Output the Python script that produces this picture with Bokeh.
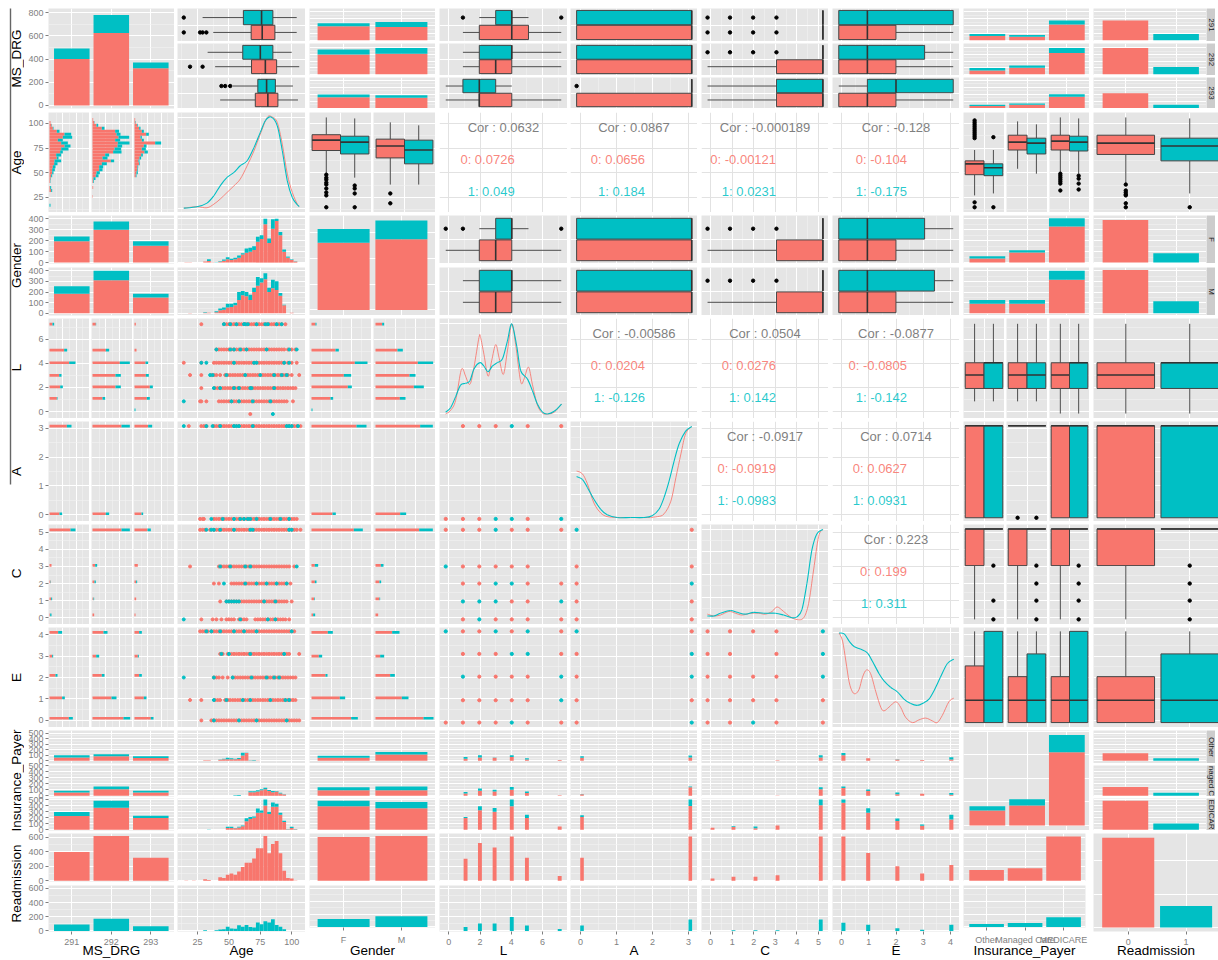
from bokeh.plotting import figure
from bokeh.models import Range1d, Grid, FixedTicker, LinearAxis, Label, BoxAnnotation, Row, Column
from bokeh.core.properties import value
from bokeh.embed import file_html
from bokeh.resources import INLINE
import math

RED = "#F8766D"
TEAL = "#00BFC4"
FONT = "Liberation Sans"
VARS = ["MS_DRG", "Age", "Gender", "L", "A", "C", "E", "Insurance_Payer", "Readmission"]

# ---------- counts: stacked bars ----------
DRG_TOTAL_RED = [400, 625, 320]
DRG_TOTAL_TEAL = [90, 155, 50]
GENDER_TOTAL_RED = [650, 683]
GENDER_TOTAL_TEAL = [132, 182]
PAYER_TOTAL_RED = [127, 170, 623]
PAYER_TOTAL_TEAL = [37, 54, 145]
READM_TOTAL_RED = [1340, 0]
READM_TOTAL_TEAL = [0, 320]

GENDER_BY_DRG_RED = [[195, 185], [300, 310], [155, 148]]
GENDER_BY_DRG_TEAL = [[43, 70], [75, 90], [40, 37]]
PAYER_BY_DRG_RED = [[57, 48, 219], [57, 100, 324], [29, 48, 162]]
PAYER_BY_DRG_TEAL = [[29, 23, 57], [38, 33, 76], [19, 19, 38]]
READM_BY_DRG = [[276, 86], [400, 110], [214, 48]]

DRG_BY_GENDER_RED = [[195, 300, 155], [185, 310, 148]]
DRG_BY_GENDER_TEAL = [[43, 75, 40], [70, 90, 37]]
PAYER_BY_GENDER_RED = [[37, 92, 329], [89, 89, 314]]
PAYER_BY_GENDER_TEAL = [[21, 22, 77], [37, 37, 86]]
READM_BY_GENDER = [[388, 86], [406, 114]]

DRG_BY_PAYER_RED = [[60, 83, 50], [55, 110, 55], [228, 366, 194]]
DRG_BY_PAYER_TEAL = [[40, 37, 35], [28, 45, 28], [67, 112, 39]]
GENDER_BY_PAYER_RED = [[55, 113], [94, 94], [390, 356]]
GENDER_BY_PAYER_TEAL = [[35, 47], [46, 61], [88, 104]]
READM_BY_PAYER = [[137, 48], [144, 50], [478, 105]]

DRG_READM = [[400, 620, 320], [90, 170, 65]]
GENDER_READM = [[605, 620], [125, 165]]
PAYER_READM = [[148, 175, 615], [46, 60, 152]]

# ---------- age histograms ----------
AGE_BINS = [16, 19, 22, 25, 28, 31, 34, 37, 40, 43, 46, 49, 52, 55, 58, 61, 64, 67, 70, 73, 76, 79, 82, 85, 88, 91, 94, 97, 100, 103]
AGE_F_RED = [3, 3, 0, 0, 0, 10, 15, 3, 0, 8, 18, 30, 25, 30, 45, 75, 90, 100, 115, 190, 215, 350, 180, 310, 380, 250, 100, 45, 25, 10]
AGE_F_TEAL = [0, 0, 0, 0, 0, 0, 15, 0, 3, 5, 10, 20, 10, 15, 20, 10, 40, 35, 35, 45, 35, 50, 40, 85, 20, 30, 20, 10, 5, 2]
AGE_M_RED = [0, 3, 0, 0, 0, 5, 5, 0, 10, 30, 35, 55, 60, 75, 125, 170, 160, 125, 200, 260, 290, 320, 200, 235, 220, 165, 75, 0, 5, 0]
AGE_M_TEAL = [0, 0, 0, 0, 0, 5, 0, 0, 10, 15, 20, 35, 30, 25, 75, 40, 40, 50, 40, 80, 40, 55, 40, 80, 80, 25, 5, 0, 0, 0]
AGE_OTHER_RED = [0, 0, 0, 0, 0, 10, 10, 0, 0, 20, 30, 30, 30, 30, 35, 95, 140, 5, 5, 5, 0, 0, 0, 0, 0, 0, 0, 0, 0, 0]
AGE_OTHER_TEAL = [0, 0, 0, 0, 0, 0, 0, 0, 0, 5, 10, 25, 15, 10, 15, 50, 5, 5, 8, 0, 0, 0, 0, 0, 0, 0, 0, 0, 0, 0]
AGE_MANAGED_RED = [0, 0, 0, 0, 0, 0, 0, 0, 0, 0, 0, 0, 0, 0, 0, 0, 0, 60, 60, 70, 90, 110, 80, 60, 70, 40, 20, 0, 0, 0]
AGE_MANAGED_TEAL = [0, 0, 0, 0, 0, 0, 0, 0, 0, 0, 0, 0, 0, 10, 15, 0, 0, 15, 15, 20, 20, 25, 15, 20, 10, 10, 5, 0, 0, 0]
AGE_MEDICARE_RED = [0, 0, 0, 0, 0, 0, 3, 0, 3, 0, 0, 30, 30, 25, 40, 60, 140, 180, 200, 280, 280, 400, 260, 380, 380, 250, 130, 10, 30, 10]
AGE_MEDICARE_TEAL = [0, 0, 0, 0, 0, 0, 3, 0, 0, 0, 0, 20, 20, 5, 10, 10, 50, 30, 20, 70, 40, 100, 40, 70, 50, 30, 20, 5, 20, 5]
AGE_READM0 = [5, 0, 5, 0, 0, 20, 10, 0, 0, 50, 40, 85, 100, 85, 130, 190, 250, 250, 310, 450, 450, 620, 380, 510, 550, 380, 140, 40, 30, 5]
AGE_READM1 = [0, 0, 0, 0, 0, 10, 0, 0, 10, 20, 25, 60, 35, 30, 80, 60, 85, 55, 50, 120, 95, 135, 120, 165, 85, 60, 25, 0, 0, 0]

AGE_H = [104, 101, 98, 95, 92, 89, 86, 83, 80, 77, 74, 71, 68, 65, 62, 59, 56, 53, 50, 47, 44, 41, 38, 35, 32, 29, 26, 23, 20, 17]
AGE_291_RED = [0, 3, 6, 10, 22, 45, 40, 25, 35, 45, 35, 32, 20, 22, 15, 14, 10, 8, 8, 5, 3, 2, 0, 2, 5, 0, 0, 0, 0, 0]
AGE_291_TEAL = [0, 0, 1, 2, 8, 20, 28, 15, 20, 18, 22, 8, 15, 5, 20, 10, 8, 8, 4, 3, 1, 1, 0, 3, 3, 0, 0, 0, 0, 3]
AGE_292_RED = [2, 5, 12, 28, 68, 72, 78, 68, 76, 75, 66, 62, 38, 30, 55, 28, 20, 20, 12, 10, 3, 2, 0, 2, 0, 0, 1, 0, 0, 0]
AGE_292_TEAL = [0, 1, 5, 8, 12, 12, 32, 15, 35, 14, 20, 25, 12, 15, 10, 15, 12, 10, 10, 8, 6, 2, 0, 0, 0, 0, 0, 0, 0, 0]
AGE_293_RED = [2, 3, 8, 14, 22, 35, 18, 22, 62, 28, 22, 30, 20, 15, 12, 14, 9, 8, 6, 4, 0, 0, 0, 0, 0, 0, 0, 0, 0, 0]
AGE_293_TEAL = [0, 1, 2, 4, 6, 8, 4, 6, 18, 8, 12, 10, 5, 5, 3, 2, 2, 2, 4, 2, 0, 0, 0, 0, 0, 0, 0, 0, 0, 0]

# ---------- count bars over L, A, C, E ----------
L_BAR_X = [1.07, 1.99, 2.93, 4.03, 5.0, 7.1]
A_BAR_X = [0.04, 3.05]
C_BAR_X = [0.09, 1.06, 2.08, 3.1, 5.1]
E_BAR_X = [0.07, 0.98, 2.05, 2.96, 4.03]
L_OTHER = [[40, 60, 55, 70, 25, 15], [30, 40, 5, 30, 23, 0]]
L_MANAGED = [[40, 83, 72, 100, 45, 10], [25, 37, 28, 45, 27, 0]]
L_MEDICARE = [[195, 322, 300, 390, 195, 55], [15, 68, 60, 110, 55, 0]]
L_READM = [[305, 525, 460, 615, 320, 65], [55, 105, 105, 195, 75, 28]]
A_OTHER = [[55, 60], [30, 35]]
A_MANAGED = [[28, 140], [2, 15]]
A_MEDICARE = [[210, 395], [30, 105]]
A_READM = [[320, 615], [75, 160]]
C_OTHER = [[0, 0, 0, 12, 60], [0, 0, 0, 0, 40]]
C_MANAGED = [[0, 3, 3, 5, 110], [0, 0, 0, 0, 30]]
C_MEDICARE = [[33, 45, 25, 70, 405], [0, 15, 30, 0, 95]]
C_READM = [[30, 55, 55, 75, 615], [0, 10, 10, 10, 160]]
E_OTHER = [[100, 48, 24, 15, 24], [43, 0, 6, 0, 41]]
E_MANAGED = [[130, 80, 28, 33, 17], [25, 25, 27, 0, 28]]
E_MEDICARE = [[445, 280, 145, 67, 172], [55, 75, 40, 23, 78]]
E_READM = [[615, 385, 200, 100, 220], [115, 88, 37, 18, 88]]

# ---------- horizontal stacked bands: level, red length, teal length ----------
L_LEVELS = [7.25, 5.1, 4.05, 3.0, 2.05, 1.1, 0.15]
L_DRG_RED = [[9, 44, 59, 29, 32, 22, 0], [10, 40, 82, 69, 69, 30, 0], [4, 6, 33, 34, 46, 37, 0]]
L_DRG_TEAL = [[5, 9, 19, 7, 8, 2, 0], [1, 10, 30, 16, 16, 8, 0], [0, 0, 8, 9, 9, 9, 3]]
L_GEN_RED = [[12, 72, 130, 97, 109, 57, 0], [20, 66, 127, 102, 115, 73, 0]]
L_GEN_TEAL = [[3, 10, 38, 22, 12, 8, 3], [6, 16, 46, 18, 30, 17, 0]]
A_LEVELS = [3.08, 0.03]
A_DRG_RED = [[52, 30], [87, 40], [41, 21]]
A_DRG_TEAL = [[14, 8], [25, 10], [12, 5]]
A_GEN_RED = [[135, 63], [134, 74]]
A_GEN_TEAL = [[30, 10], [38, 18]]
C_LEVELS = [5.15, 3.06, 2.1, 1.1, 0.16]
C_DRG_RED = [[63, 6, 3, 5, 2], [87, 8, 6, 3, 5], [39, 10, 5, 5, 3]]
C_DRG_TEAL = [[15, 0, 1, 3, 4], [25, 6, 4, 2, 0], [10, 0, 3, 0, 0]]
C_GEN_RED = [[127, 10, 10, 8, 5], [131, 16, 12, 12, 8]]
C_GEN_TEAL = [[27, 10, 5, 2, 6], [41, 8, 5, 2, 0]]
E_LEVELS = [4.1, 3.0, 2.1, 1.05, 0.1]
E_DRG_RED = [[26, 8, 18, 38, 58], [33, 11, 28, 57, 93], [14, 10, 14, 28, 49]]
E_DRG_TEAL = [[12, 3, 6, 8, 12], [12, 9, 8, 15, 20], [8, 3, 8, 8, 8]]
E_GEN_RED = [[49, 22, 42, 85, 119], [50, 14, 44, 79, 144]]
E_GEN_TEAL = [[15, 10, 6, 16, 20], [22, 12, 14, 20, 30]]

# ---------- Age scatter, by level ----------
AGE_L_Y = [7.25, 5.15, 4.05, 3.03, 1.95, 0.85, -0.2]
AGE_L_RED = [
    [28, 46, 48, 50, 52, 54, 56, 58, 60, 62, 64, 66, 68, 70, 72, 74, 76, 78, 80, 82, 84, 86, 88, 90, 92, 95],
    [40, 42, 44, 46, 48, 50, 52, 54, 56, 58, 60, 62, 64, 66, 68, 70, 72, 74, 76, 78, 80, 82, 84, 86, 88, 90, 92, 94, 97, 100, 103],
    [14, 28, 38, 40, 42, 44, 46, 48, 50, 52, 54, 56, 58, 60, 62, 64, 66, 68, 70, 72, 74, 76, 78, 80, 82, 84, 86, 88, 90, 92, 94, 97, 100, 104],
    [19, 28, 36, 38, 40, 43, 47, 49, 51, 53, 55, 57, 59, 61, 63, 65, 67, 69, 71, 73, 75, 77, 79, 81, 83, 85, 87, 89, 91, 93, 95, 97, 100, 106],
    [28, 39, 41, 43, 45, 47, 49, 51, 53, 55, 57, 59, 61, 63, 65, 67, 69, 71, 73, 75, 77, 79, 81, 83, 85, 87, 89, 91, 93, 95, 97, 99, 101, 103],
    [27, 28, 32, 42, 44, 46, 48, 50, 52, 54, 56, 58, 60, 62, 64, 66, 68, 70, 72, 74, 76, 78, 80, 82, 84, 86, 88, 90, 92, 94, 96, 101],
    [67],
]
AGE_L_TEAL = [
    [46, 51, 56, 62, 63, 65, 72, 79, 81, 88, 92],
    [40, 51, 54, 59, 64, 80, 98, 104],
    [28, 32, 54, 70, 72, 94, 98],
    [35, 37, 48, 63, 75, 86, 92, 96],
    [38, 43, 54, 58, 67, 68, 86],
    [14, 52, 58, 69, 83],
    [85],
]
AGE_A_Y = [3.08, -0.15]
AGE_A_RED = [
    [18, 28, 30, 32, 38, 40, 42, 44, 46, 48, 50, 52, 54, 56, 58, 60, 62, 64, 66, 68, 70, 72, 74, 76, 78, 80, 82, 84, 86, 88, 90, 92, 94, 96, 98, 100, 102, 104, 107],
    [27, 29, 30, 38, 40, 42, 44, 46, 48, 50, 52, 54, 56, 58, 60, 62, 64, 66, 68, 70, 72, 74, 76, 78, 80, 82, 84, 86, 88, 90, 92, 94, 96, 98, 100, 102, 104],
]
AGE_A_TEAL = [
    [14, 32, 37, 43, 54, 56, 58, 69, 96, 98, 100, 105],
    [36, 45, 54, 59, 62, 65, 67, 72, 83, 91, 98],
]
AGE_C_Y = [5.15, 3.0, 2.0, 0.95, -0.1]
AGE_C_RED = [
    [27, 29, 31, 35, 38, 40, 42, 44, 46, 48, 50, 52, 54, 56, 58, 60, 62, 64, 66, 68, 70, 72, 74, 76, 78, 80, 82, 84, 86, 88, 90, 92, 94, 96, 98, 100, 102, 104, 107],
    [19, 42, 44, 46, 48, 50, 52, 54, 56, 58, 60, 62, 64, 66, 68, 70, 72, 74, 76, 78, 80, 82, 84, 86, 88, 90, 92, 94, 96, 98, 102],
    [38, 42, 52, 54, 56, 58, 60, 62, 64, 66, 68, 70, 72, 74, 76, 78, 80, 82, 84, 86, 88, 90, 92, 94, 96, 99],
    [43, 48, 50, 52, 54, 56, 58, 60, 62, 64, 66, 68, 70, 72, 74, 76, 78, 80, 82, 84, 86, 88, 90, 92, 94, 96, 100],
    [28, 37, 40, 44, 48, 50, 52, 54, 58, 60, 62, 64, 71, 73, 75, 77, 79, 81, 83, 85, 87, 89, 91, 93, 95, 98],
]
AGE_C_TEAL = [
    [32, 36, 38, 43, 54, 67, 69, 98, 100],
    [43, 51, 63, 67, 104],
    [46, 63, 72, 80, 88, 96],
    [48, 50, 52, 54, 56, 58, 78, 87],
    [14, 59, 81, 87],
]
AGE_E_Y = [4.15, 3.1, 2.0, 0.95, 0.0]
AGE_E_RED = [
    [27, 29, 31, 33, 36, 38, 40, 42, 44, 46, 48, 50, 52, 54, 56, 58, 60, 62, 64, 66, 68, 70, 72, 74, 76, 78, 80, 82, 84, 86, 88, 90, 92, 94, 96, 98, 100, 102],
    [43, 45, 49, 52, 54, 56, 58, 60, 62, 64, 66, 68, 70, 72, 74, 76, 78, 80, 82, 84, 86, 88, 90, 92, 94, 96, 98, 106],
    [38, 40, 42, 45, 49, 53, 55, 57, 59, 61, 63, 65, 67, 69, 71, 73, 75, 77, 79, 81, 83, 85, 87, 89, 91, 93, 95, 97, 99, 101, 103],
    [19, 28, 39, 41, 43, 47, 49, 51, 53, 55, 57, 59, 61, 63, 65, 67, 69, 71, 73, 75, 77, 79, 81, 83, 85, 87, 89, 91, 93, 95, 97, 99, 101, 103],
    [28, 36, 38, 40, 42, 44, 46, 48, 50, 52, 54, 56, 58, 60, 62, 64, 66, 68, 70, 72, 74, 76, 78, 80, 82, 84, 86, 88, 90, 92, 94, 96, 98, 100, 102, 104, 106],
]
AGE_E_TEAL = [
    [32, 36, 43, 54, 62, 72, 100],
    [44, 50, 67, 94],
    [14, 38, 53, 68, 80, 86, 90],
    [38, 48, 61, 67, 83, 95, 98],
    [38, 58, 72, 96],
]

# ---------- point grids (R salmon, T teal, - none) ----------
L_PTS = [-0.2, 0.9, 1.95, 3.0, 4.03, 5.05, 7.2]
A_PTS = [-0.11, 3.09]
C_PTS = [-0.14, 0.9, 1.97, 3.05, 5.2]
A_Y_PTS = [3.08, -0.15]
C_Y_PTS = [5.15, 3.0, 2.0, 0.95, -0.1]
E_Y_PTS = [4.15, 3.1, 2.04, 0.94, -0.1]
A_BY_L = ["-RRRTRR", "RRRTTRT"]
C_BY_L = ["RRRTRRR", "TRRRRR-", "-RRTTRR", "-TTTRRT", "-RTRRRR"]
E_BY_L = ["TRRTRTR", "-RRRTTR", "-TRRRRT", "-RRRRRT", "RRRRTRR"]
C_BY_A = ["TR", "RR", "RT", "RR", "RR"]
E_BY_A = ["TR", "RT", "RT", "RR", "RT"]
E_BY_C = ["RRRRT", "RR-RT", "RRRRT", "RRRRR", "RRTRR"]

# ---------- densities ----------
DENS_AGE_RED_X = [14, 24.5, 32.5, 38, 43, 48.5, 54, 59, 64.5, 70, 75, 80.5, 84.5, 88.5, 92.5, 96.5, 100.5, 104.5, 106]
DENS_AGE_RED_Y = [0, 0.015, 0.004, 0.044, 0.099, 0.172, 0.245, 0.319, 0.465, 0.63, 0.813, 0.996, 1, 0.941, 0.703, 0.374, 0.172, 0.044, 0.018]
DENS_AGE_TEAL_X = [14, 24.5, 32.5, 38, 43, 48.5, 54, 59, 64.5, 70, 75, 79, 83.5, 88.5, 92.5, 96.5, 100.5, 104.5, 106]
DENS_AGE_TEAL_Y = [0, 0.015, 0.055, 0.136, 0.245, 0.337, 0.392, 0.465, 0.52, 0.667, 0.832, 0.96, 1, 0.905, 0.63, 0.3, 0.117, 0.037, 0.018]
DENS_L_RED_X = [-0.21, 0.11, 0.43, 0.75, 0.9, 1.07, 1.35, 1.61, 1.93, 2.03, 2.25, 2.51, 2.74, 3, 3.21, 3.49, 3.75, 4.03, 4.28, 4.6, 4.82, 5.1, 5.35, 5.67, 6, 6.32, 6.75, 7.22]
DENS_L_RED_Y = [0, 0.04, 0.15, 0.46, 0.5, 0.42, 0.33, 0.52, 0.85, 0.85, 0.66, 0.42, 0.59, 0.77, 0.63, 0.44, 0.7, 1, 0.77, 0.36, 0.39, 0.52, 0.33, 0.1, 0.01, 0, 0.02, 0.11]
DENS_L_TEAL_X = [-0.21, 0.11, 0.43, 0.75, 1.07, 1.35, 1.61, 1.99, 2.25, 2.51, 2.78, 3.1, 3.43, 3.75, 4.03, 4.35, 4.6, 5.03, 5.35, 5.67, 6, 6.32, 6.75, 7.22]
DENS_L_TEAL_Y = [0.02, 0.07, 0.19, 0.32, 0.34, 0.37, 0.5, 0.57, 0.53, 0.47, 0.53, 0.57, 0.61, 0.81, 1, 0.75, 0.48, 0.39, 0.26, 0.11, 0.02, 0, 0.03, 0.11]
DENS_A_RED_X = [-0.11, 0.05, 0.19, 0.37, 0.56, 0.74, 1.02, 1.39, 1.86, 2.14, 2.32, 2.51, 2.65, 2.79, 2.92, 3.09]
DENS_A_RED_Y = [0.51, 0.48, 0.37, 0.16, 0.05, 0.01, 0, 0, 0, 0.01, 0.04, 0.18, 0.44, 0.7, 0.92, 1]
DENS_A_TEAL_X = [-0.11, 0.05, 0.19, 0.37, 0.56, 0.74, 1.02, 1.39, 1.76, 1.99, 2.18, 2.32, 2.46, 2.6, 2.74, 2.92, 3.09]
DENS_A_TEAL_Y = [0.45, 0.42, 0.33, 0.2, 0.09, 0.03, 0, 0, 0, 0.02, 0.09, 0.22, 0.4, 0.62, 0.81, 0.95, 1]
DENS_C_RED_X = [-0.15, 0.15, 0.46, 0.85, 1.15, 1.46, 1.85, 2.23, 2.54, 2.85, 3.08, 3.38, 3.69, 4, 4.31, 4.54, 4.77, 5, 5.2]
DENS_C_RED_Y = [0.06, 0.04, 0.05, 0.09, 0.07, 0.05, 0.07, 0.07, 0.06, 0.09, 0.14, 0.09, 0.03, 0, 0.02, 0.18, 0.55, 0.92, 1]
DENS_C_TEAL_X = [-0.15, 0.15, 0.46, 0.92, 1.23, 1.62, 2, 2.46, 3, 3.38, 3.77, 4, 4.23, 4.46, 4.69, 4.92, 5.2]
DENS_C_TEAL_Y = [0.04, 0.04, 0.07, 0.1, 0.08, 0.06, 0.08, 0.07, 0.07, 0.05, 0.02, 0.03, 0.11, 0.4, 0.77, 0.95, 1]
DENS_E_RED_X = [-0.09, 0.04, 0.16, 0.28, 0.4, 0.52, 0.65, 0.77, 0.91, 1.07, 1.26, 1.44, 1.56, 1.74, 1.99, 2.17, 2.35, 2.6, 2.84, 3.09, 3.33, 3.51, 3.7, 3.94, 4.12]
DENS_E_RED_Y = [1, 0.91, 0.69, 0.46, 0.35, 0.33, 0.38, 0.51, 0.59, 0.55, 0.35, 0.18, 0.14, 0.18, 0.24, 0.18, 0.07, 0.01, 0.04, 0.06, 0.03, 0.01, 0.09, 0.24, 0.28]
DENS_E_TEAL_X = [-0.09, 0.1, 0.28, 0.46, 0.71, 0.95, 1.13, 1.38, 1.56, 1.8, 2.05, 2.29, 2.54, 2.78, 3.02, 3.21, 3.39, 3.63, 3.88, 4.12]
DENS_E_TEAL_Y = [1, 0.99, 0.91, 0.85, 0.82, 0.78, 0.69, 0.55, 0.47, 0.4, 0.35, 0.27, 0.22, 0.2, 0.23, 0.27, 0.36, 0.51, 0.66, 0.71]

# ---------- correlations ----------
CORR = {
    (1, 3): ("0.0632", "0.0726", "0.049"), (1, 4): ("0.0867", "0.0656", "0.184"),
    (1, 5): ("-0.000189", "-0.00121", "0.0231"), (1, 6): ("-0.128", "-0.104", "-0.175"),
    (3, 4): ("-0.00586", "0.0204", "-0.126"), (3, 5): ("0.0504", "0.0276", "0.142"),
    (3, 6): ("-0.0877", "-0.0805", "-0.142"), (4, 5): ("-0.0917", "-0.0919", "-0.0983"),
    (4, 6): ("0.0714", "0.0627", "0.0931"), (5, 6): ("0.223", "0.199", "0.311"),
}

# ---------- box statistics: low, q1, median, q3, high, outliers ----------
BOX_AGE_DRG = [
    ((37.5, 67.7, 76.5, 86.6, 104, [14, 27, 29, 32]), (29, 61.5, 76, 85, 104, [14])),
    ((39, 68, 79, 88, 106, [19, 29]), (33, 61, 75, 85, 100, [])),
    ((43, 71, 81, 89, 105, []), (53, 73, 80, 87, 101, [44, 47, 51])),
]
BOX_L_DRG = [
    ((0.9, 1.95, 4.03, 5.1, 7.2, []), (1.95, 3, 4.03, 4.03, 5.1, [0.9, 7.2])),
    ((0.9, 1.95, 3, 4.03, 7.2, []), (0.9, 1.95, 4.03, 4.03, 7.2, [])),
    ((-0.2, 1.95, 1.95, 4.03, 7.2, []), (-0.2, 0.9, 1.95, 3, 4.03, [])),
]
BOX_A_FULL = (-0.11, -0.11, 3.09, 3.09, 3.09, [])
BOX_A_FLAT = (3.09, 3.09, 3.09, 3.09, 3.09, [-0.11])
BOX_A_DRG = [(BOX_A_FULL, BOX_A_FULL), (BOX_A_FULL, BOX_A_FULL), (BOX_A_FULL, BOX_A_FLAT)]
BOX_C_FLAT = (5.2, 5.2, 5.2, 5.2, 5.2, [-0.14, 0.9, 1.97, 3.05])
BOX_C_FULL = (-0.14, 3.05, 5.2, 5.2, 5.2, [])
BOX_C_DRG = [(BOX_C_FLAT, BOX_C_FLAT), (BOX_C_FULL, BOX_C_FLAT), (BOX_C_FULL, BOX_C_FULL)]
BOX_E_DRG = [
    ((-0.1, -0.1, 0.95, 2, 4.1, []), (-0.1, -0.1, 0.95, 4.1, 4.1, [])),
    ((-0.1, -0.1, 0.95, 2, 4.1, []), (-0.1, -0.1, 0.95, 3.05, 4.1, [])),
    ((-0.1, -0.1, 0.95, 2, 4.1, []), (-0.1, 0.95, 2, 4.1, 4.1, [])),
]
BOX_L_GEN = [
    ((-0.2, 1.95, 3, 4.03, 7.2, []), (1.95, 3, 4.03, 4.03, 5.1, [-0.2, 0.9, 7.2])),
    ((0.9, 1.95, 3, 4.03, 7.2, []), (0.9, 1.95, 4.03, 4.03, 7.2, [])),
]
BOX_A_GEN = [(BOX_A_FULL, BOX_A_FULL), (BOX_A_FULL, BOX_A_FULL)]
BOX_C_GEN = [(BOX_C_FULL, BOX_C_FLAT), (BOX_C_FULL, BOX_C_FLAT)]
BOX_E_GEN = [
    ((-0.1, -0.1, 0.95, 2, 4.1, []), (-0.1, -0.1, 0.95, 3.05, 4.1, [])),
    ((-0.1, -0.1, 0.95, 2, 4.1, []), (-0.1, -0.1, 0.95, 3.41, 4.1, [])),
]
BOX_AGE_GEN = [
    ((49, 72.5, 83, 88.5, 106, [48, 45, 43, 40, 38, 34, 30, 27, 15]), (45, 69, 81, 87, 105, [37, 34, 29, 15])),
    ((38, 65, 77, 84, 101, [29, 19]), (38, 59, 73, 83, 98, [])),
]
BOX_AGE_PAY = [
    ((27, 48, 59, 62, 73, [103, 101, 99, 97, 95, 93, 91, 89, 87, 85, 20, 15]), (29, 47, 55, 59, 73, [86, 15])),
    ((54, 73, 81, 88, 102, []), (49, 69, 80, 85, 99, [])),
    ((50, 73, 82, 88, 106, [49, 47, 45, 43, 41, 39, 32]), (49, 72, 81, 87, 105, [47, 44, 39, 33])),
]
BOX_AGE_READM = ((39, 68.5, 80, 88, 106, [38, 32, 30, 28, 27, 19, 15]), (29, 62, 77, 85, 105, [15]))
BOX_L_PAY = [
    ((0.85, 1.92, 3.04, 4.05, 7.28, []), (0.85, 1.92, 4.05, 4.05, 7.28, [])),
    ((0.85, 1.92, 3.04, 4.05, 7.28, []), (0.85, 1.92, 3.04, 4.05, 7.28, [])),
    ((-0.16, 1.92, 3.04, 4.05, 7.28, []), (-0.16, 1.92, 4.05, 4.05, 7.28, [])),
]
BOX_L_READM = ((-0.16, 1.92, 3.04, 4.05, 7.28, []), (-0.16, 1.92, 4.05, 4.05, 7.28, []))
BOX_A_PAY = [(BOX_A_FULL, BOX_A_FULL), (BOX_A_FLAT, BOX_A_FLAT), (BOX_A_FULL, BOX_A_FULL)]
BOX_A_READM = (BOX_A_FULL, BOX_A_FULL)
BOX_C2_FULL = (-0.1, 3.05, 5.2, 5.2, 5.2, [])
BOX_C_PAY = [
    (BOX_C2_FULL, (5.2, 5.2, 5.2, 5.2, 5.2, [3.05, 1.0, -0.1])),
    (BOX_C2_FULL, (5.2, 5.2, 5.2, 5.2, 5.2, [3.05, 2.0, 1.0, -0.1])),
    (BOX_C2_FULL, (5.2, 5.2, 5.2, 5.2, 5.2, [3.05, 2.0, 1.0, -0.1])),
]
BOX_C_READM = (BOX_C2_FULL, (5.2, 5.2, 5.2, 5.2, 5.2, [3.05, 2.0, 1.0, -0.1]))
BOX_E_PAY = [
    ((-0.1, -0.1, 0.94, 2.54, 4.15, []), (-0.1, -0.1, 0.94, 4.15, 4.15, [])),
    ((-0.1, -0.1, 0.94, 2.04, 4.15, []), (-0.1, -0.1, 0.94, 3.1, 4.15, [])),
    ((-0.1, -0.1, 0.94, 2.04, 4.15, []), (-0.1, -0.1, 0.94, 4.15, 4.15, [])),
]
BOX_E_READM = ((-0.1, -0.1, 0.94, 2.04, 4.15, []), (-0.1, -0.1, 0.94, 3.1, 4.15, []))

STRIPS = {0: ["291", "292", "293"], 2: ["F", "M"], 7: ["Other", "naged C", "EDICAR"]}

# ---------- layout geometry (page pixels) ----------
COL_X = [(48, 174), (177, 305), (309, 435), (439, 567), (570, 697), (701, 828), (832, 959), (963, 1089), (1093, 1218)]
ROW_Y = [(8, 108), (112, 212), (215, 315), (318, 418), (421, 521), (524, 624), (627, 727), (730, 830), (833, 932)]
SUB_ROWS = {0: [(8, 41), (43, 75), (77, 108)], 2: [(215, 263), (267, 315)],
            7: [(730, 763), (765, 796), (798, 830)], 8: [(833, 881), (885, 932)]}
SUB_COLS = {0: [(48, 89), (91, 132), (133, 174)], 2: [(309, 371), (373, 435)], 7: [(963, 1004), (1006, 1047), (1049, 1089)]}
STRIP_RIGHT = 1206
LABEL_W = 24
BOTTOM_H = 28
PAD = 4

XR = {0: (0.41, 3.6), 1: (9, 111), 2: (0.41, 2.59), 3: (-0.6, 7.6), 4: (-0.28, 3.25), 5: (-0.42, 5.46), 6: (-0.33, 4.33), 7: (0.4, 3.57), 8: (0.495, 2.45)}
YR = {0: (-26, 835), 1: (9.7, 111), 2: (-54, 913), 3: (-0.57, 7.72), 4: (-0.24, 3.24), 5: (-0.4, 5.46), 6: (-0.33, 4.33), 7: (-42, 807), 8: (-59, 1404)}
SUB_YR = {0: [(-19, 443), (-19, 467), (-5, 438)], 2: [(-8, 430), (-20, 430)],
          7: [(-48, 548), (-11, 500), (-11, 517)], 8: [(-10, 655), (-8, 640)]}
XT = {0: ([1, 2, 3], []), 1: ([25, 50, 75, 100], [12.5, 37.5, 62.5, 87.5]), 2: ([1, 2], []),
      3: ([0, 2, 4, 6], [1, 3, 5, 7]), 4: ([0, 1, 2, 3], [0.5, 1.5, 2.5]), 5: ([0, 1, 2, 3, 4, 5], [0.5, 1.5, 2.5, 3.5, 4.5]),
      6: ([0, 1, 2, 3, 4], [0.5, 1.5, 2.5, 3.5]), 7: ([1, 2, 3], []), 8: ([1, 2], [])}
YT = {0: ([0, 200, 400, 600, 800], [100, 300, 500, 700]), 1: ([25, 50, 75, 100], [12.5, 37.5, 62.5, 87.5]),
      2: ([0, 250, 500, 750], []), 3: ([0, 2, 4, 6], [1, 3, 5, 7]), 4: ([0, 1, 2, 3], [0.5, 1.5, 2.5]),
      5: ([0, 1, 2, 3, 4, 5], [0.5, 1.5, 2.5, 3.5, 4.5]), 6: ([0, 1, 2, 3, 4], [0.5, 1.5, 2.5, 3.5]),
      7: ([0, 200, 400, 600, 800], []), 8: ([0, 500, 1000], [])}
SUB_YT = {0: ([0, 100, 200, 300, 400], [50, 150, 250, 350]), 2: ([0, 100, 200, 300, 400], [50, 150, 250, 350]),
          7: ([0, 100, 200, 300, 400, 500], [50, 150, 250, 350, 450]), 8: ([0, 200, 400, 600], [100, 300, 500])}
BOTTOM_LABELS = {0: {1: "291", 2: "292", 3: "293"}, 2: {1: "F", 2: "M"}, 7: {1: "Other", 2: "Managed Care", 3: "MEDICARE"}, 8: {1: "0", 2: "1"}}
DENS_YT = ([0, 0.25, 0.5, 0.75, 1.0], [0.125, 0.375, 0.625, 0.875])


def make_panel(x0, x1, y0, y1, xr, yr, xt, yt, left=None, bottom=None, bottom_labels=None, title=None, bg="#E5E5E5", grid="white", minor="#F1F1F1", pad_right=0, pad=True):
    ptop = PAD if (left and pad) else 0
    pbot = BOTTOM_H if bottom else (PAD if (left and pad) else 0)
    w = x1 - x0 + (LABEL_W if left else 0) + pad_right
    h = y1 - y0 + ptop + pbot
    p = figure(width=w, height=h, x_range=Range1d(*xr), y_range=Range1d(*yr),
               x_axis_type=None, y_axis_type=None, toolbar_location=None, tools="",
               output_backend="svg", min_border=0,
               min_border_left=LABEL_W if left else 0, min_border_bottom=pbot, min_border_top=ptop, min_border_right=pad_right,
               background_fill_color=bg, border_fill_color=None, outline_line_color=None)
    p.add_layout(Grid(dimension=0, ticker=FixedTicker(ticks=list(xt[0]), minor_ticks=list(xt[1])),
                      grid_line_color=grid, grid_line_width=1, minor_grid_line_color=minor if xt[1] else None, minor_grid_line_width=0.6), "center")
    p.add_layout(Grid(dimension=1, ticker=FixedTicker(ticks=list(yt[0]), minor_ticks=list(yt[1])),
                      grid_line_color=grid, grid_line_width=1, minor_grid_line_color=minor if yt[1] else None, minor_grid_line_width=0.6), "center")

    def style(a):
        a.axis_line_color = None
        a.major_tick_line_color = "#7f7f7f"
        a.major_tick_in = 0
        a.major_tick_out = 3
        a.minor_tick_line_color = None
        a.major_label_text_color = "#7f7f7f"
        a.major_label_text_font = FONT
        a.major_label_text_font_size = "9px"
        a.major_label_standoff = 2
    if left:
        a = LinearAxis(ticker=FixedTicker(ticks=list(left)))
        style(a)
        p.add_layout(a, "left")
    if bottom:
        a = LinearAxis(ticker=FixedTicker(ticks=list(bottom)))
        style(a)
        a.major_label_standoff = 4
        a.major_label_overrides = bottom_labels or {}
        a.axis_label = title
        a.axis_label_text_font = FONT
        a.axis_label_text_font_size = "13.5px"
        a.axis_label_text_font_style = "normal"
        a.axis_label_text_color = "black"
        a.axis_label_standoff = -5
        p.add_layout(a, "below")
    return p


def bars(p, xs, red, teal, width):
    rx = [x for x, v in zip(xs, red) if v > 0]
    rt = [v for v in red if v > 0]
    if rx:
        p.vbar(x=rx, width=width, bottom=0, top=rt, fill_color=RED, line_color=None)
    tx = [x for x, v in zip(xs, teal) if v > 0]
    tb = [r for r, v in zip(red, teal) if v > 0]
    tt = [r + v for r, v in zip(red, teal) if v > 0]
    if tx:
        p.vbar(x=tx, width=width, bottom=tb, top=tt, fill_color=TEAL, line_color=None)


def hbands(p, levels, red, teal, thick):
    ry = [y for y, v in zip(levels, red) if v > 0]
    rr = [v for v in red if v > 0]
    if ry:
        p.hbar(y=ry, height=thick, left=0, right=rr, fill_color=RED, line_color=None)
    ty = [y for y, v in zip(levels, teal) if v > 0]
    tl = [r for r, v in zip(red, teal) if v > 0]
    tr = [r + v for r, v in zip(red, teal) if v > 0]
    if ty:
        p.hbar(y=ty, height=thick, left=tl, right=tr, fill_color=TEAL, line_color=None)


def box(p, stats, color, center, half, horizontal):
    low, q1, med, q3, high, outs = stats
    a, b = center - half, center + half
    if horizontal:
        p.segment(x0=[low, q3], y0=[center, center], x1=[q1, high], y1=[center, center], line_color="#4d4d4d", line_width=1)
        p.quad(left=[q1], right=[q3], bottom=[a], top=[b], fill_color=color, line_color="#444444", line_width=1)
        p.segment(x0=[med], y0=[a], x1=[med], y1=[b], line_color="#333333", line_width=1.6)
        if outs:
            p.scatter(x=outs, y=[center] * len(outs), size=3.4, color="black")
    else:
        p.segment(x0=[center, center], y0=[low, q3], x1=[center, center], y1=[q1, high], line_color="#4d4d4d", line_width=1)
        p.quad(left=[a], right=[b], bottom=[q1], top=[q3], fill_color=color, line_color="#444444", line_width=1)
        p.segment(x0=[a], y0=[med], x1=[b], y1=[med], line_color="#333333", line_width=1.6)
        if outs:
            p.scatter(x=[center] * len(outs), y=outs, size=3.4, color="black")


def hbox_pair(p, pair):
    box(p, pair[0], RED, 0.73, 0.26, True)
    box(p, pair[1], TEAL, 1.27, 0.26, True)


def vbox_pair(p, pair):
    box(p, pair[0], RED, 0.725, 0.275, False)
    box(p, pair[1], TEAL, 1.275, 0.275, False)


def vbox_single(p, pair):
    box(p, pair[0], RED, 1, 0.45, False)
    box(p, pair[1], TEAL, 2, 0.45, False)


def point_grid(p, xs, ys, rows):
    for y, row in zip(ys, rows):
        rx = [x for x, c in zip(xs, row) if c == "R"]
        tx = [x for x, c in zip(xs, row) if c == "T"]
        if rx:
            p.scatter(x=rx, y=[y] * len(rx), size=3.2, color=RED)
        if tx:
            p.scatter(x=tx, y=[y] * len(tx), size=3.2, color=TEAL)


def age_scatter(p, ys, red, teal):
    for y, r, t in zip(ys, red, teal):
        p.scatter(x=r, y=[y] * len(r), size=3, color=RED)
        p.scatter(x=t, y=[y] * len(t), size=3, color=TEAL)


def smooth(p, xs, ys, color, width, alpha):
    # one Bezier piece between each pair of read-off points, so the curve passes through all of them
    n = len(xs)
    x0, y0, x1, y1, cx0, cy0, cx1, cy1 = [], [], [], [], [], [], [], []
    for i in range(n - 1):
        a = max(i - 1, 0)
        b = min(i + 2, n - 1)
        x0.append(xs[i]); y0.append(ys[i]); x1.append(xs[i + 1]); y1.append(ys[i + 1])
        cx0.append(xs[i] + (xs[i + 1] - xs[a]) / 6); cy0.append(ys[i] + (ys[i + 1] - ys[a]) / 6)
        cx1.append(xs[i + 1] - (xs[b] - xs[i]) / 6); cy1.append(ys[i + 1] - (ys[b] - ys[i]) / 6)
    p.bezier(x0=x0, y0=y0, x1=x1, y1=y1, cx0=cx0, cy0=cy0, cx1=cx1, cy1=cy1,
             line_color=color, line_width=width, line_alpha=alpha)


def density(p, rx, ry, tx, ty):
    smooth(p, rx, ry, RED, 1, 0.85)
    smooth(p, tx, ty, TEAL, 1.1, 1)


def corr(p, xr, yr, vals):
    spanx = xr[1] - xr[0]
    spany = yr[1] - yr[0]
    cx = xr[0] + 0.5 * spanx
    rx = xr[0] + 0.587 * spanx
    def ty(f):
        return yr[1] - f * spany
    p.text(x=[cx], y=[ty(0.15)], text=["Cor : " + vals[0]], text_align="center", text_baseline="middle",
           text_font=value(FONT), text_font_size="13px", text_color="#7f7f7f")
    p.text(x=[rx], y=[ty(0.47)], text=["0: " + vals[1]], text_align="right", text_baseline="middle",
           text_font=value(FONT), text_font_size="13px", text_color=RED, text_alpha=0.9)
    p.text(x=[rx], y=[ty(0.79)], text=["1: " + vals[2]], text_align="right", text_baseline="middle",
           text_font=value(FONT), text_font_size="13px", text_color=TEAL, text_alpha=0.85)


def strip(h, text):
    s = figure(width=9, height=h, x_range=Range1d(0, 1), y_range=Range1d(0, 1), x_axis_type=None, y_axis_type=None,
               toolbar_location=None, tools="", output_backend="svg", min_border=0,
               background_fill_color="#CCCCCC", border_fill_color="#CCCCCC", outline_line_color=None)
    s.add_layout(Label(x=0.5, y=0.5, text=text, angle=-math.pi / 2, text_align="center", text_baseline="middle",
                       text_font=FONT, text_font_size="8px", text_color="#1a1a1a"))
    return s


# what each cell draws: one entry per sub-panel
def rowfacet_spec(r, c):
    n = len(SUB_ROWS[r])
    out = []
    for i in range(n):
        if r == 0:
            if c == 1: out.append(("hbox", BOX_AGE_DRG[i]))
            elif c == 2: out.append(("bars", ([1, 2], GENDER_BY_DRG_RED[i], GENDER_BY_DRG_TEAL[i], 0.9)))
            elif c == 3: out.append(("hbox", BOX_L_DRG[i]))
            elif c == 4: out.append(("hbox", BOX_A_DRG[i]))
            elif c == 5: out.append(("hbox", BOX_C_DRG[i]))
            elif c == 6: out.append(("hbox", BOX_E_DRG[i]))
            elif c == 7: out.append(("bars", ([1, 2, 3], PAYER_BY_DRG_RED[i], PAYER_BY_DRG_TEAL[i], 0.9)))
            else: out.append(("bars", ([1, 2], [READM_BY_DRG[i][0], 0], [0, READM_BY_DRG[i][1]], 0.9)))
        elif r == 2:
            if c == 0: out.append(("bars", ([1, 2, 3], DRG_BY_GENDER_RED[i], DRG_BY_GENDER_TEAL[i], 0.9)))
            elif c == 1: out.append(("bars", (AGE_BINS, [AGE_F_RED, AGE_M_RED][i], [AGE_F_TEAL, AGE_M_TEAL][i], 3)))
            elif c == 3: out.append(("hbox", BOX_L_GEN[i]))
            elif c == 4: out.append(("hbox", BOX_A_GEN[i]))
            elif c == 5: out.append(("hbox", BOX_C_GEN[i]))
            elif c == 6: out.append(("hbox", BOX_E_GEN[i]))
            elif c == 7: out.append(("bars", ([1, 2, 3], PAYER_BY_GENDER_RED[i], PAYER_BY_GENDER_TEAL[i], 0.9)))
            else: out.append(("bars", ([1, 2], [READM_BY_GENDER[i][0], 0], [0, READM_BY_GENDER[i][1]], 0.9)))
        elif r == 7:
            if c == 0: out.append(("bars", ([1, 2, 3], DRG_BY_PAYER_RED[i], DRG_BY_PAYER_TEAL[i], 0.9)))
            elif c == 1: out.append(("bars", (AGE_BINS, [AGE_OTHER_RED, AGE_MANAGED_RED, AGE_MEDICARE_RED][i], [AGE_OTHER_TEAL, AGE_MANAGED_TEAL, AGE_MEDICARE_TEAL][i], 3)))
            elif c == 2: out.append(("bars", ([1, 2], GENDER_BY_PAYER_RED[i], GENDER_BY_PAYER_TEAL[i], 0.9)))
            elif c == 3:
                d = [L_OTHER, L_MANAGED, L_MEDICARE][i]; out.append(("bars", (L_BAR_X, d[0], d[1], 0.25)))
            elif c == 4:
                d = [A_OTHER, A_MANAGED, A_MEDICARE][i]; out.append(("bars", (A_BAR_X, d[0], d[1], 0.1)))
            elif c == 5:
                d = [C_OTHER, C_MANAGED, C_MEDICARE][i]; out.append(("bars", (C_BAR_X, d[0], d[1], 0.18)))
            elif c == 6:
                d = [E_OTHER, E_MANAGED, E_MEDICARE][i]; out.append(("bars", (E_BAR_X, d[0], d[1], 0.15)))
            else: out.append(("bars", ([1, 2], [READM_BY_PAYER[i][0], 0], [0, READM_BY_PAYER[i][1]], 0.9)))
        elif r == 8:
            def one(xs, both, w):
                row = both[i]
                zero = [0] * len(row)
                return ("bars", (xs, row if i == 0 else zero, zero if i == 0 else row, w))
            if c == 0: out.append(one([1, 2, 3], DRG_READM, 0.9))
            elif c == 1: out.append(one(AGE_BINS, [AGE_READM0, AGE_READM1], 3))
            elif c == 2: out.append(one([1, 2], GENDER_READM, 0.9))
            elif c == 3: out.append(one(L_BAR_X, L_READM, 0.25))
            elif c == 4: out.append(one(A_BAR_X, A_READM, 0.1))
            elif c == 5: out.append(one(C_BAR_X, C_READM, 0.18))
            elif c == 6: out.append(one(E_BAR_X, E_READM, 0.15))
            else: out.append(one([1, 2, 3], PAYER_READM, 0.9))
    return out


def colfacet_spec(r, c):
    if c == 0:
        if r == 1:
            return [("hage", (AGE_H, a, b)) for a, b in zip([AGE_291_RED, AGE_292_RED, AGE_293_RED], [AGE_291_TEAL, AGE_292_TEAL, AGE_293_TEAL])]
        lv, red, teal = {3: (L_LEVELS, L_DRG_RED, L_DRG_TEAL), 4: (A_LEVELS, A_DRG_RED, A_DRG_TEAL),
                         5: (C_LEVELS, C_DRG_RED, C_DRG_TEAL), 6: (E_LEVELS, E_DRG_RED, E_DRG_TEAL)}[r]
        return [("bands", (lv, a, b)) for a, b in zip(red, teal)]
    if c == 2:
        if r == 1:
            return [("vbox", x) for x in BOX_AGE_GEN]
        lv, red, teal = {3: (L_LEVELS, L_GEN_RED, L_GEN_TEAL), 4: (A_LEVELS, A_GEN_RED, A_GEN_TEAL),
                         5: (C_LEVELS, C_GEN_RED, C_GEN_TEAL), 6: (E_LEVELS, E_GEN_RED, E_GEN_TEAL)}[r]
        return [("bands", (lv, a, b)) for a, b in zip(red, teal)]
    d = {1: BOX_AGE_PAY, 3: BOX_L_PAY, 4: BOX_A_PAY, 5: BOX_C_PAY, 6: BOX_E_PAY}[r]
    return [("vbox", x) for x in d]


def single_spec(r, c):
    if r == c:
        return {0: ("bars", ([1, 2, 3], DRG_TOTAL_RED, DRG_TOTAL_TEAL, 0.9)),
                1: ("dens", (DENS_AGE_RED_X, DENS_AGE_RED_Y, DENS_AGE_TEAL_X, DENS_AGE_TEAL_Y, (-0.048, 1.05))),
                2: ("bars", ([1, 2], GENDER_TOTAL_RED, GENDER_TOTAL_TEAL, 0.9)),
                3: ("dens", (DENS_L_RED_X, DENS_L_RED_Y, DENS_L_TEAL_X, DENS_L_TEAL_Y, (-0.05, 1.06))),
                4: ("dens", (DENS_A_RED_X, DENS_A_RED_Y, DENS_A_TEAL_X, DENS_A_TEAL_Y, (-0.044, 1.055))),
                5: ("dens", (DENS_C_RED_X, DENS_C_RED_Y, DENS_C_TEAL_X, DENS_C_TEAL_Y, (-0.055, 1.055))),
                6: ("dens", (DENS_E_RED_X, DENS_E_RED_Y, DENS_E_TEAL_X, DENS_E_TEAL_Y, (-0.044, 1.06))),
                7: ("bars", ([1, 2, 3], PAYER_TOTAL_RED, PAYER_TOTAL_TEAL, 0.9)),
                8: ("bars", ([1, 2], READM_TOTAL_RED, READM_TOTAL_TEAL, 0.9))}[r]
    if (r, c) in CORR:
        return ("corr", CORR[(r, c)])
    if c == 8:
        return ("vboxs", {1: BOX_AGE_READM, 3: BOX_L_READM, 4: BOX_A_READM, 5: BOX_C_READM, 6: BOX_E_READM}[r])
    if c == 1:
        return ("age", {3: (AGE_L_Y, AGE_L_RED, AGE_L_TEAL), 4: (AGE_A_Y, AGE_A_RED, AGE_A_TEAL),
                        5: (AGE_C_Y, AGE_C_RED, AGE_C_TEAL), 6: (AGE_E_Y, AGE_E_RED, AGE_E_TEAL)}[r])
    return ("points", {(4, 3): (L_PTS, A_Y_PTS, A_BY_L), (5, 3): (L_PTS, C_Y_PTS, C_BY_L), (6, 3): (L_PTS, E_Y_PTS, E_BY_L),
                       (5, 4): (A_PTS, C_Y_PTS, C_BY_A), (6, 4): (A_PTS, E_Y_PTS, E_BY_A), (6, 5): (C_PTS, E_Y_PTS, E_BY_C)}[(r, c)])


def draw(spec, x0, x1, y0, y1, r, c, xr, yr, xt, yt, left=None, bottom=None, pad_right=0, pad=True):
    kind, d = spec
    labels = BOTTOM_LABELS.get(c)
    title = VARS[c]
    if kind == "dens":
        yr = d[4]
        yt = DENS_YT
    if kind == "corr":
        p = make_panel(x0, x1, y0, y1, xr, yr, (xt[0], []), (yt[0], []), bg="white", grid="#E2E2E2")
        corr(p, xr, yr, d)
        return p
    p = make_panel(x0, x1, y0, y1, xr, yr, xt, yt, left=left, bottom=bottom, bottom_labels=labels, title=title, pad_right=pad_right, pad=pad)
    if kind == "bars":
        bars(p, *d)
    elif kind == "hbox":
        hbox_pair(p, d)
    elif kind == "vbox":
        vbox_pair(p, d)
    elif kind == "vboxs":
        vbox_single(p, d)
    elif kind == "bands":
        hbands(p, d[0], d[1], d[2], 2.7 * (yr[1] - yr[0]) / (y1 - y0))
    elif kind == "hage":
        hbands(p, d[0], d[1], d[2], 3)
    elif kind == "dens":
        density(p, d[0], d[1], d[2], d[3])
    elif kind == "age":
        age_scatter(p, d[0], d[1], d[2])
    elif kind == "points":
        point_grid(p, d[0], d[1], d[2])
    return p


def build_cell(r, c):
    x0, x1 = COL_X[c]
    y0, y1 = ROW_Y[r]
    row_f = r in SUB_ROWS and r != c
    col_f = (not row_f) and r != c and c in SUB_COLS and (r, c) not in CORR
    if row_f:
        specs = rowfacet_spec(r, c)
        items = []
        prev = None
        xr = XR[c]
        right = x1
        if c == 8:
            right = STRIP_RIGHT
            xr = (0.37, 2.6)
        for i, s in enumerate(specs):
            sy0, sy1 = SUB_ROWS[r][i]
            if s[0] == "hbox":
                yr, yt = (0.4, 1.6), ([1], [])
            else:
                yr, yt = SUB_YR[r][i], SUB_YT[r]
            left = SUB_YT[r][0] if c == 0 else None
            is_last = i == len(specs) - 1
            bottom = XT[c][0] if (r == 8 and is_last) else None
            # the MEDICARE label needs a little room past the panel edge
            pr = 4 if (r == 8 and c == 7 and is_last) else 0
            p = draw(s, x0, right, sy0, sy1, r, c, xr, yr, XT[c], yt, left=left, bottom=bottom, pad_right=pr)
            el = p
            if c == 8 and r in STRIPS:
                el = Row(children=[p, strip(sy1 - sy0, STRIPS[r][i])])
            gap = (sy0 - prev) if prev is not None else 0
            mtop = gap - (PAD if left else 0)
            mbot = -PAD if (left and not bottom) else 0
            el.margin = (mtop, -pr, mbot, 0)
            prev = sy1
            items.append(el)
        return Column(children=items)
    if col_f:
        specs = colfacet_spec(r, c)
        items = []
        prev = None
        for i, s in enumerate(specs):
            sx0, sx1 = SUB_COLS[c][i]
            if s[0] == "vbox":
                xr, xt = (0.4, 1.6), ([1], [])
            elif c == 0:
                xr, xt = (-3, 120), ([40, 80], [20, 60, 100])
            else:
                xr, xt = (-6, 180), ([60, 120], [30, 90, 150])
            left = YT[r][0] if (c == 0 and i == 0) else None
            p = draw(s, sx0, sx1, y0, y1, r, c, xr, YR[r], xt, YT[r], left=left, pad=False)
            gap = (sx0 - prev) if prev is not None else 0
            p.margin = (0, 0, 0, gap)
            prev = sx1
            items.append(p)
        return Row(children=items)
    s = single_spec(r, c)
    xr = XR[c]
    if r == c == 8:
        xr = (0.4, 2.56)
    left = YT[r][0] if c == 0 else None
    bottom = XT[c][0] if r == 8 else None
    p = draw(s, x0, x1, y0, y1, r, c, xr, YR[r], XT[c], YT[r], left=left, bottom=bottom)
    if left:
        p.margin = (-PAD, 0, -PAD, 0)
    return p


bands = []
for r in range(9):
    cells = []
    for c in range(9):
        el = build_cell(r, c)
        if c > 0:
            el.margin = (0, 0, 0, COL_X[c][0] - COL_X[c - 1][1])
        cells.append(el)
    top = ROW_Y[r][0] - (ROW_Y[r - 1][1] if r > 0 else 0)
    bands.append(Row(children=cells, margin=(top, 0, 0, 0)))

# row titles on the far left, on a page-high strip
labels = figure(width=LABEL_W, height=960, x_range=Range1d(0, LABEL_W), y_range=Range1d(960, 0),
                x_axis_type=None, y_axis_type=None, toolbar_location=None, tools="", output_backend="svg",
                min_border=0, background_fill_color="white", border_fill_color="white", outline_line_color=None)
labels.add_layout(BoxAnnotation(left=9.3, right=10.7, top=8, bottom=484, fill_color="#666666", fill_alpha=1, line_color=None))
ROW_TITLE_Y = [58, 162, 265, 367, 471, 573, 677, 780, 883]
for name, y in zip(VARS, ROW_TITLE_Y):
    labels.add_layout(Label(x=16, y=y, text=name, angle=math.pi / 2, text_align="center", text_baseline="middle",
                            text_font=FONT, text_font_size="13.5px", text_color="black"))

root = Row(children=[labels, Column(children=bands)])
open("out.html", "w").write(file_html(root, INLINE))
